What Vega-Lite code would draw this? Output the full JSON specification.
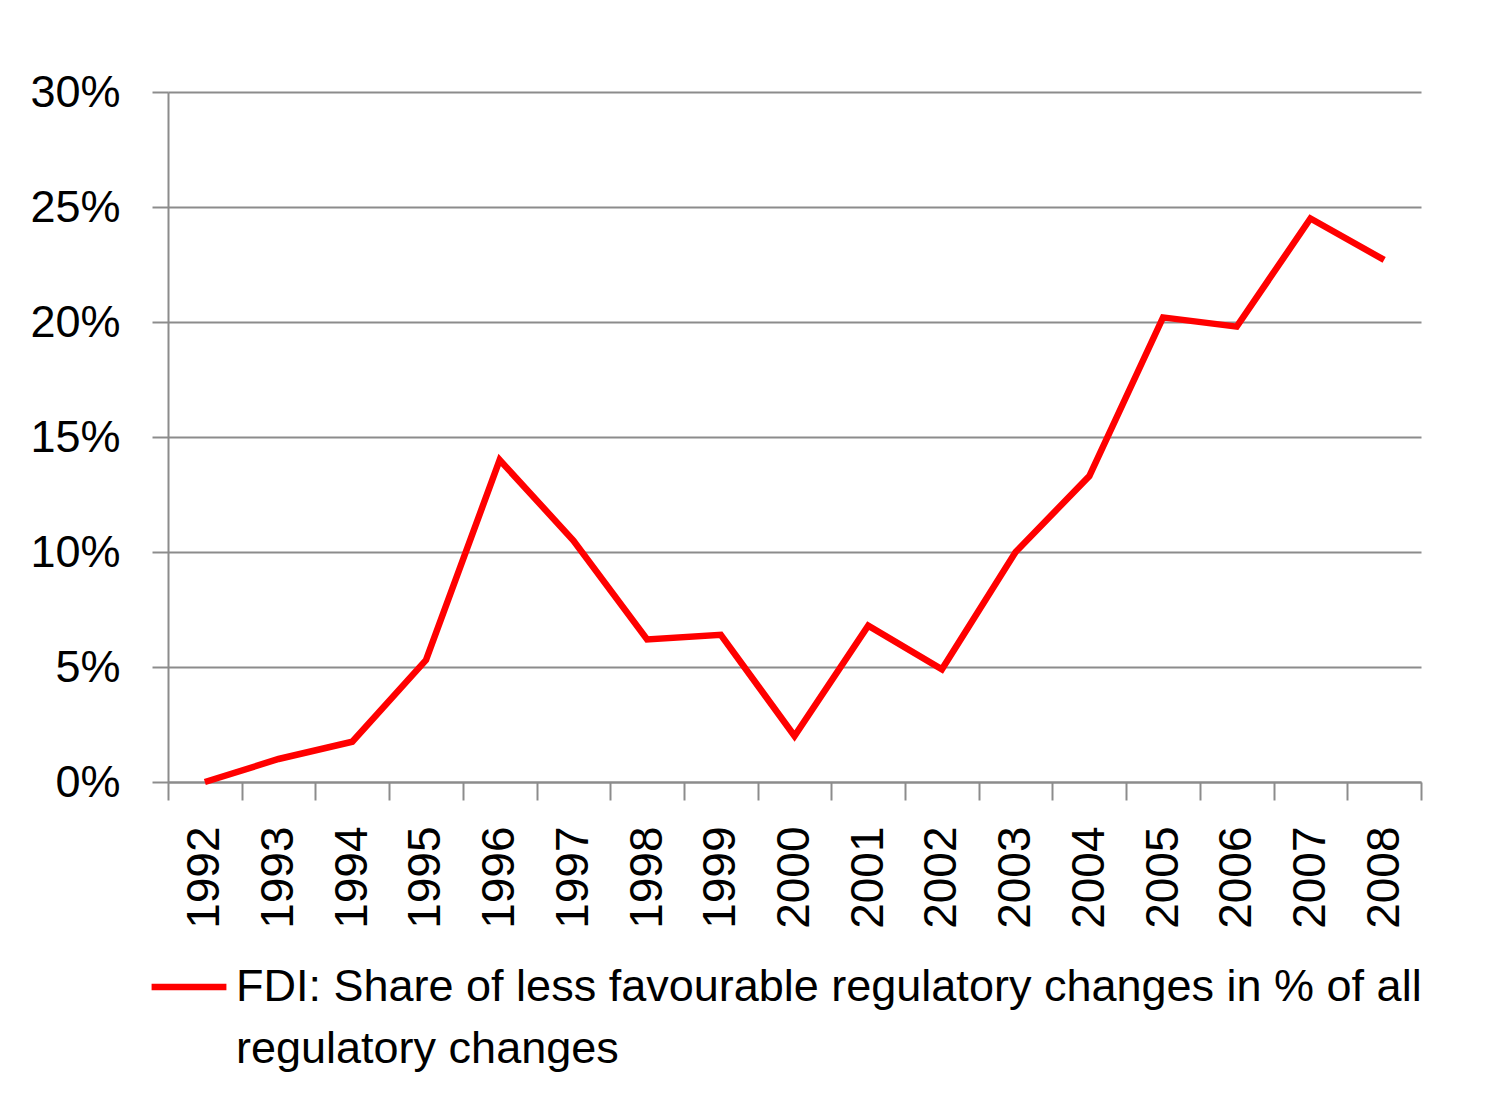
{
  "$schema": "https://vega.github.io/schema/vega-lite/v6.json",
  "autosize": {"type": "none"},
  "width": 1253,
  "height": 690,
  "padding": {"left": 168, "top": 92, "right": 82, "bottom": 316},
  "background": "white",
  "config": {
    "view": {"stroke": null},
    "font": "Liberation Sans"
  },
  "data": {
    "values": [
      {"year": "1992", "share": 0.000, "series": "FDI"},
      {"year": "1993", "share": 0.010, "series": "FDI"},
      {"year": "1994", "share": 0.0175, "series": "FDI"},
      {"year": "1995", "share": 0.053, "series": "FDI"},
      {"year": "1996", "share": 0.140, "series": "FDI"},
      {"year": "1997", "share": 0.105, "series": "FDI"},
      {"year": "1998", "share": 0.062, "series": "FDI"},
      {"year": "1999", "share": 0.064, "series": "FDI"},
      {"year": "2000", "share": 0.020, "series": "FDI"},
      {"year": "2001", "share": 0.068, "series": "FDI"},
      {"year": "2002", "share": 0.049, "series": "FDI"},
      {"year": "2003", "share": 0.100, "series": "FDI"},
      {"year": "2004", "share": 0.133, "series": "FDI"},
      {"year": "2005", "share": 0.202, "series": "FDI"},
      {"year": "2006", "share": 0.198, "series": "FDI"},
      {"year": "2007", "share": 0.245, "series": "FDI"},
      {"year": "2008", "share": 0.227, "series": "FDI"}
    ]
  },
  "mark": {"type": "line", "strokeWidth": 6.5, "strokeJoin": "miter"},
  "encoding": {
    "x": {
      "field": "year",
      "type": "ordinal",
      "scale": {"paddingInner": 0, "paddingOuter": 0},
      "axis": {
        "title": null,
        "labelAngle": 270,
        "labelAlign": "right",
        "labelBaseline": "middle",
        "labelFontSize": 46,
        "labelColor": "#000000",
        "labelPadding": 26,
        "tickBand": "extent",
        "tickSize": 18,
        "tickColor": "#8c8c8c",
        "tickWidth": 2,
        "domainColor": "#8c8c8c",
        "domainWidth": 2,
        "grid": false
      }
    },
    "y": {
      "field": "share",
      "type": "quantitative",
      "scale": {"domain": [0, 0.3], "nice": false},
      "axis": {
        "title": null,
        "values": [0, 0.05, 0.1, 0.15, 0.2, 0.25, 0.3],
        "format": ".0%",
        "labelFontSize": 45,
        "labelColor": "#000000",
        "labelPadding": 32,
        "tickSize": 16,
        "tickColor": "#8c8c8c",
        "tickWidth": 2,
        "domainColor": "#8c8c8c",
        "domainWidth": 2,
        "grid": true,
        "gridColor": "#8c8c8c",
        "gridWidth": 2,
        "gridOpacity": 1
      }
    },
    "color": {
      "field": "series",
      "type": "nominal",
      "scale": {"range": ["#ff0000"]},
      "legend": {
        "title": null,
        "orient": "none",
        "legendX": -20,
        "legendY": 854,
        "direction": "vertical",
        "symbolType": "stroke",
        "symbolSize": 5600,
        "symbolStrokeWidth": 6.5,
        "labelFontSize": 45,
        "labelColor": "#000000",
        "labelLimit": 2000,
        "labelOffset": 6,
        "labelExpr": "['FDI: Share of less favourable regulatory changes in % of all', 'regulatory changes']",
        "encode": {"labels": {"update": {"lineHeight": {"value": 62}}}}
      }
    }
  }
}
